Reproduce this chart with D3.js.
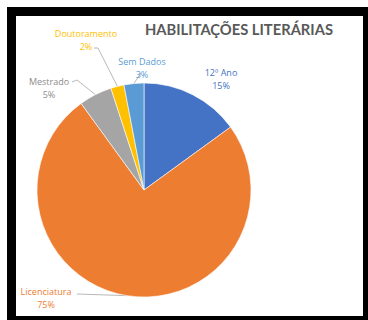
<!DOCTYPE html>
<html>
<head>
<meta charset="utf-8">
<script src="https://cdn.jsdelivr.net/npm/d3@7"></script>
<style>
  body { margin: 0; background: #fff; }
  svg { display: block; }
</style>
</head>
<body>
<div id="svg-container"></div>
<script>
// Data
const categories = ["12º Ano", "Licenciatura", "Mestrado", "Doutoramento", "Sem Dados"];
const values = [15, 75, 5, 2, 3];
const percentLabels = ["15%", "75%", "5%", "2%", "3%"];
const colors = ["#4472C4", "#ED7D31", "#A5A5A5", "#FFC000", "#5B9BD5"];
const labelColors = ["#4472C4", "#ED7D31", "#8C8C8C", "#FFC000", "#5B9BD5"];

const width = 368;
const height = 320;
const cx = 144, cy = 190, radius = 107;

// label placement, offsets from pie centre (x, first baseline), plus leader line start/elbow
const labelLayout = {
  "12º Ano":      { x: 77,  y: -114, lead: null },
  "Licenciatura": { x: -98, y: 105,  lead: [[-67, 104]] },
  "Mestrado":     { x: -95, y: -105, lead: [[-72, -108], [-67, -110]] },
  "Doutoramento": { x: -58, y: -153, lead: [[-50, -142], [-46, -142]] },
  "Sem Dados":    { x: -2,  y: -125, lead: [[-3, -117]] }
};

const svg = d3.select("#svg-container")
  .append("svg")
    .attr("width", width)
    .attr("height", height);

// frame
svg.append("rect")
  .attr("x", 7).attr("y", 7)
  .attr("width", width - 7).attr("height", height - 7)
  .attr("fill", "#000");
svg.append("rect")
  .attr("x", 16).attr("y", 16)
  .attr("width", 347).attr("height", 300)
  .attr("fill", "#fff");

// title
svg.append("text")
  .attr("x", 239).attr("y", 35)
  .attr("text-anchor", "middle")
  .attr("textLength", 188)
  .attr("lengthAdjust", "spacingAndGlyphs")
  .style("font-family", "Lato, 'Open Sans', sans-serif")
  .style("font-weight", "bold")
  .style("font-size", "15px")
  .style("fill", "#595959")
  .text("HABILITAÇÕES LITERÁRIAS");

const table = categories.map((c, i) => ({ name: c, value: values[i], pct: percentLabels[i], color: colors[i], labelColor: labelColors[i] }));

const pie = d3.pie().sort(null).value(d => d.value);
const arc = d3.arc().innerRadius(0).outerRadius(radius);
const arcs = pie(table);

const mainG = svg.append("g")
  .attr("transform", `translate(${cx}, ${cy})`);

// leader lines (drawn under the slices)
const edgePoint = d => {
  const a = (d.startAngle + d.endAngle) / 2;
  return [radius * Math.sin(a), -radius * Math.cos(a)];
};

mainG.selectAll("leader")
  .data(arcs.filter(d => labelLayout[d.data.name].lead))
  .enter()
  .append("polyline")
    .attr("points", d => labelLayout[d.data.name].lead.concat([edgePoint(d)]).map(p => p.join(",")).join(" "))
    .attr("fill", "none")
    .attr("stroke", "#A6A6A6")
    .attr("stroke-width", 0.8);

// slices
mainG.selectAll("slices")
  .data(arcs)
  .enter()
  .append("path")
    .attr("d", arc)
    .attr("fill", d => d.data.color)
    .attr("stroke", "#fff")
    .attr("stroke-width", 0.6);

// labels
const labels = mainG.selectAll("labels")
  .data(arcs)
  .enter()
  .append("text")
    .attr("text-anchor", "middle")
    .style("font-family", "'Open Sans', sans-serif")
    .style("font-size", "9px")
    .style("fill", d => d.data.labelColor);

labels.append("tspan")
  .attr("x", d => labelLayout[d.data.name].x)
  .attr("y", d => labelLayout[d.data.name].y)
  .text(d => d.data.name);

labels.append("tspan")
  .attr("x", d => labelLayout[d.data.name].x)
  .attr("dy", 12.5)
  .text(d => d.data.pct);
</script>
</body>
</html>
